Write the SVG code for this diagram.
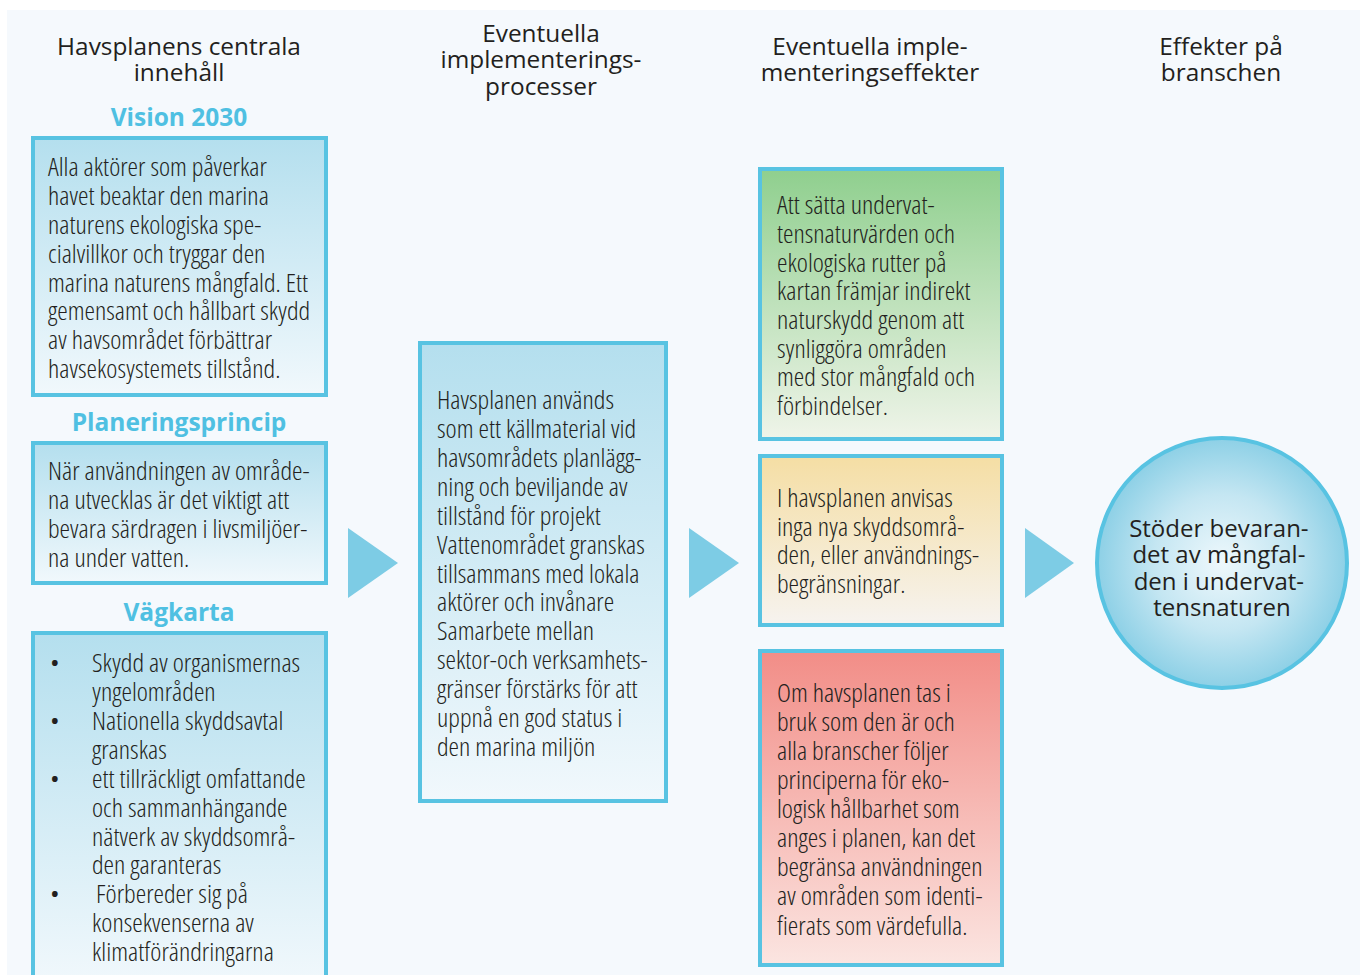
<svg xmlns="http://www.w3.org/2000/svg" width="1360" height="975" viewBox="0 0 1360 975">
  <style>
    .head { font-family: "Open Sans", "Liberation Sans", sans-serif; font-size: 24.4px; fill: #231f20; text-anchor: middle; }
    .label { font-family: "Open Sans", "Liberation Sans", sans-serif; font-size: 24.5px; font-weight: 700; fill: #4fc0e2; text-anchor: middle; }
    .body { font-family: "Open Sans", "Liberation Sans", sans-serif; font-size: 26.5px; font-weight: 300; font-stretch: 75%; fill: #231f20; }
    .circ { font-family: "Open Sans", "Liberation Sans", sans-serif; font-size: 24px; fill: #231f20; text-anchor: middle; }
    .box { stroke: #58c3e2; stroke-width: 4; }
    .arrow { fill: #7dcce5; }
  </style>
  <defs>
    <linearGradient id="gBlue" x1="0" y1="0" x2="0" y2="1">
      <stop offset="0" stop-color="#b4dfee"/>
      <stop offset="1" stop-color="#f1f8fc"/>
    </linearGradient>
    <linearGradient id="gGreen" x1="0" y1="0" x2="0" y2="1">
      <stop offset="0" stop-color="#8fcf8e"/>
      <stop offset="1" stop-color="#eff4e9"/>
    </linearGradient>
    <linearGradient id="gYellow" x1="0" y1="0" x2="0" y2="1">
      <stop offset="0" stop-color="#f5dea4"/>
      <stop offset="1" stop-color="#f6f3ef"/>
    </linearGradient>
    <linearGradient id="gRed" x1="0" y1="0" x2="0" y2="1">
      <stop offset="0" stop-color="#f28d87"/>
      <stop offset="1" stop-color="#fbe5e1"/>
    </linearGradient>
    <radialGradient id="gCircle" cx="0.5" cy="0.5" r="0.5">
      <stop offset="0" stop-color="#eef8fc"/>
      <stop offset="0.55" stop-color="#c4e6f2"/>
      <stop offset="1" stop-color="#8dd0e6"/>
    </radialGradient>
  </defs>

  <rect x="0" y="0" width="1360" height="975" fill="#ffffff"/>
  <rect x="7" y="10" width="1353" height="965" fill="#f5f9fd"/>

  <!-- column headings -->
  <g id="headings">
    <text class="head" x="179" y="55">Havsplanens centrala</text>
    <text class="head" x="179" y="81">innehåll</text>
    <text class="head" x="541" y="42">Eventuella</text>
    <text class="head" x="541" y="68">implementerings-</text>
    <text class="head" x="541" y="95">processer</text>
    <text class="head" x="870" y="55">Eventuella imple-</text>
    <text class="head" x="870" y="81">menteringseffekter</text>
    <text class="head" x="1221" y="55">Effekter på</text>
    <text class="head" x="1221" y="81">branschen</text>
  </g>

  <g id="vision">
    <text class="label" x="179" y="126">Vision 2030</text>
    <rect class="box" x="33" y="138" width="293" height="257" fill="url(#gBlue)"/>
    <text class="body">
      <tspan x="48" y="176">Alla aktörer som påverkar</tspan>
      <tspan x="48" y="205">havet beaktar den marina</tspan>
      <tspan x="48" y="234">naturens ekologiska spe-</tspan>
      <tspan x="48" y="263">cialvillkor och tryggar den</tspan>
      <tspan x="48" y="292">marina naturens mångfald. Ett</tspan>
      <tspan x="48" y="320">gemensamt och hållbart skydd</tspan>
      <tspan x="48" y="349">av havsområdet förbättrar</tspan>
      <tspan x="48" y="378">havsekosystemets tillstånd.</tspan>
    </text>
  </g>

  <g id="planeringsprincip">
    <text class="label" x="179" y="431">Planeringsprincip</text>
    <rect class="box" x="33" y="443" width="293" height="140" fill="url(#gBlue)"/>
    <text class="body">
      <tspan x="48" y="480">När användningen av område-</tspan>
      <tspan x="48" y="509">na utvecklas är det viktigt att</tspan>
      <tspan x="48" y="538">bevara särdragen i livsmiljöer-</tspan>
      <tspan x="48" y="567">na under vatten.</tspan>
    </text>
  </g>

  <g id="vagkarta">
    <text class="label" x="179" y="621">Vägkarta</text>
    <rect class="box" x="33" y="633" width="293" height="352" fill="url(#gBlue)"/>
    <text class="body">
      <tspan x="50" y="672">•</tspan>
      <tspan x="92" y="672">Skydd av organismernas</tspan>
      <tspan x="92" y="701">yngelområden</tspan>
      <tspan x="50" y="730">•</tspan>
      <tspan x="92" y="730">Nationella skyddsavtal</tspan>
      <tspan x="92" y="759">granskas</tspan>
      <tspan x="50" y="788">•</tspan>
      <tspan x="92" y="788">ett tillräckligt omfattande</tspan>
      <tspan x="92" y="817">och sammanhängande</tspan>
      <tspan x="92" y="846">nätverk av skyddsområ-</tspan>
      <tspan x="92" y="874">den garanteras</tspan>
      <tspan x="50" y="903">•</tspan>
      <tspan x="96" y="903">Förbereder sig på</tspan>
      <tspan x="92" y="932">konsekvenserna av</tspan>
      <tspan x="92" y="961">klimatförändringarna</tspan>
    </text>
  </g>

  <g id="processer">
    <rect class="box" x="420" y="343" width="246" height="458" fill="url(#gBlue)"/>
    <text class="body">
      <tspan x="437" y="409">Havsplanen används</tspan>
      <tspan x="437" y="438">som ett källmaterial vid</tspan>
      <tspan x="437" y="467">havsområdets planlägg-</tspan>
      <tspan x="437" y="496">ning och beviljande av</tspan>
      <tspan x="437" y="525">tillstånd för projekt</tspan>
      <tspan x="437" y="554">Vattenområdet granskas</tspan>
      <tspan x="437" y="583">tillsammans med lokala</tspan>
      <tspan x="437" y="611">aktörer och invånare</tspan>
      <tspan x="437" y="640">Samarbete mellan</tspan>
      <tspan x="437" y="669">sektor-och verksamhets-</tspan>
      <tspan x="437" y="698">gränser förstärks för att</tspan>
      <tspan x="437" y="727">uppnå en god status i</tspan>
      <tspan x="437" y="756">den marina miljön</tspan>
    </text>
  </g>

  <g id="effekt-gron">
    <rect class="box" x="760" y="169" width="242" height="270" fill="url(#gGreen)"/>
    <text class="body">
      <tspan x="777" y="214">Att sätta undervat-</tspan>
      <tspan x="777" y="243">tensnaturvärden och</tspan>
      <tspan x="777" y="272">ekologiska rutter på</tspan>
      <tspan x="777" y="300">kartan främjar indirekt</tspan>
      <tspan x="777" y="329">naturskydd genom att</tspan>
      <tspan x="777" y="358">synliggöra områden</tspan>
      <tspan x="777" y="386">med stor mångfald och</tspan>
      <tspan x="777" y="415">förbindelser.</tspan>
    </text>
  </g>

  <g id="effekt-gul">
    <rect class="box" x="760" y="456" width="242" height="169" fill="url(#gYellow)"/>
    <text class="body">
      <tspan x="777" y="507">I havsplanen anvisas</tspan>
      <tspan x="777" y="536">inga nya skyddsområ-</tspan>
      <tspan x="777" y="564">den, eller användnings-</tspan>
      <tspan x="777" y="593">begränsningar.</tspan>
    </text>
  </g>

  <g id="effekt-rod">
    <rect class="box" x="760" y="651" width="242" height="314" fill="url(#gRed)"/>
    <text class="body">
      <tspan x="777" y="702">Om havsplanen tas i</tspan>
      <tspan x="777" y="731">bruk som den är och</tspan>
      <tspan x="777" y="760">alla branscher följer</tspan>
      <tspan x="777" y="789">principerna för eko-</tspan>
      <tspan x="777" y="818">logisk hållbarhet som</tspan>
      <tspan x="777" y="847">anges i planen, kan det</tspan>
      <tspan x="777" y="876">begränsa användningen</tspan>
      <tspan x="777" y="905">av områden som identi-</tspan>
      <tspan x="777" y="935">fierats som värdefulla.</tspan>
    </text>
  </g>

  <g id="bransch">
    <circle class="box" cx="1222" cy="563" r="125" fill="url(#gCircle)"/>
    <text class="circ">
      <tspan x="1222" y="537">Stöder bevaran-</tspan>
      <tspan x="1222" y="563">det av mångfal-</tspan>
      <tspan x="1222" y="590">den i undervat-</tspan>
      <tspan x="1222" y="616">tensnaturen</tspan>
    </text>
  </g>

  <!-- flow arrows between columns -->
  <g id="connectors">
    <polygon class="arrow" points="348,528 398,563 348,598"/>
    <polygon class="arrow" points="689,528 739,563 689,598"/>
    <polygon class="arrow" points="1025,528 1074,563 1025,598"/>
  </g>
</svg>
